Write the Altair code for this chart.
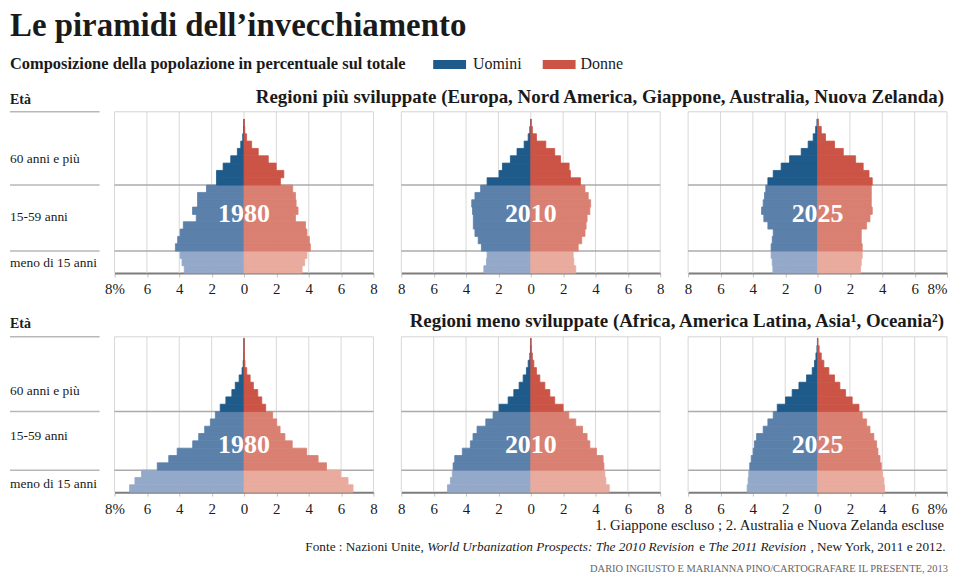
import altair as alt
import pandas as pd

FONT = "Liberation Serif"

TITLE = "Le piramidi dell’invecchiamento"
SUBTITLE = "Composizione della popolazione in percentuale sul totale"
SEXES = ["Uomini", "Donne"]
YEARS = ["1980", "2010", "2025"]
AGE_GROUPS = ["0-4", "5-9", "10-14", "15-19", "20-24", "25-29", "30-34", "35-39",
              "40-44", "45-49", "50-54", "55-59", "60-64", "65-69", "70-74", "75-79",
              "80-84", "85-89", "90-94", "95-99", "100+"]
REGION_TITLES = [
    "Regioni più sviluppate (Europa, Nord America, Giappone, Australia, Nuova Zelanda)",
    "Regioni meno sviluppate (Africa, America Latina, Asia¹, Oceania²)",
]
BAND_LABELS = ["meno di 15 anni", "15-59 anni", "60 anni e più"]
# age at which the 2nd and 3rd colour band start, as drawn in each row
BAND_START_AGES = [[15, 60], [15, 55]]
TICKS = [-8, -6, -4, -2, 0, 2, 4, 6, 8]
NOTE_1 = "1. Giappone escluso ; 2. Australia e Nuova Zelanda escluse"
NOTE_2 = [("Fonte : Nazioni Unite, ", False),
          ("World Urbanization Prospects: The 2010 Revision", True),
          (" e ", False),
          ("The 2011 Revision", True),
          (" , New York, 2011 e 2012.", False)]
CREDIT = "DARIO INGIUSTO E MARIANNA PINO/CARTOGRAFARE IL PRESENTE, 2013"

# % of total population, age groups from 0-4 (first) to 100+ (last)
DEV_1980_M = [3.69, 3.83, 3.95, 4.24, 4.10, 3.95, 3.75, 2.95, 3.18, 2.87, 2.87, 2.32, 1.70, 1.70, 1.29, 0.82, 0.41, 0.20, 0.08, 0.03, 0.01]
DEV_1980_F = [3.59, 3.75, 3.89, 4.10, 4.04, 3.89, 3.80, 3.18, 3.34, 3.22, 3.18, 3.01, 2.25, 2.46, 1.99, 1.50, 0.88, 0.47, 0.16, 0.05, 0.01]
DEV_2010_M = [2.90, 2.74, 2.70, 3.05, 3.25, 3.45, 3.55, 3.55, 3.60, 3.65, 3.45, 3.10, 2.70, 1.96, 1.75, 1.26, 0.85, 0.41, 0.16, 0.06, 0.01]
DEV_2010_F = [2.78, 2.66, 2.62, 2.93, 3.15, 3.35, 3.42, 3.48, 3.65, 3.70, 3.55, 3.35, 3.07, 2.45, 2.37, 1.84, 1.48, 0.93, 0.35, 0.10, 0.03]
DEV_2025_M = [2.76, 2.80, 2.87, 2.87, 2.80, 2.74, 3.07, 3.32, 3.46, 3.36, 3.28, 3.20, 3.07, 2.74, 2.25, 1.73, 1.01, 0.58, 0.27, 0.12, 0.04]
DEV_2025_F = [2.66, 2.70, 2.76, 2.76, 2.70, 2.70, 3.03, 3.24, 3.38, 3.32, 3.32, 3.32, 3.38, 3.18, 2.82, 2.35, 1.59, 1.05, 0.49, 0.23, 0.06]
LESS_1980_M = [7.07, 6.74, 6.33, 5.36, 4.65, 4.13, 3.17, 2.80, 2.43, 2.08, 1.77, 1.47, 1.12, 0.75, 0.54, 0.30, 0.12, 0.05, 0.01, 0.00, 0.00]
LESS_1980_F = [6.74, 6.43, 5.98, 5.10, 4.58, 3.87, 2.98, 2.53, 2.23, 2.02, 1.77, 1.34, 1.10, 0.85, 0.58, 0.38, 0.17, 0.06, 0.02, 0.01, 0.00]
LESS_2010_M = [5.15, 4.97, 4.85, 4.80, 4.70, 4.23, 3.73, 3.57, 3.32, 2.78, 2.33, 1.96, 1.40, 1.05, 0.72, 0.47, 0.27, 0.16, 0.06, 0.02, 0.00]
LESS_2010_F = [4.85, 4.64, 4.58, 4.52, 4.47, 4.06, 3.65, 3.48, 3.20, 2.78, 2.35, 2.00, 1.48, 1.18, 0.87, 0.56, 0.35, 0.19, 0.10, 0.04, 0.01]
LESS_2025_M = [4.35, 4.29, 4.25, 4.19, 4.10, 3.98, 3.90, 3.77, 3.36, 3.07, 2.74, 2.49, 1.98, 1.57, 1.15, 0.68, 0.33, 0.19, 0.10, 0.04, 0.01]
LESS_2025_F = [4.14, 4.10, 4.02, 3.94, 3.86, 3.73, 3.65, 3.48, 3.24, 3.03, 2.76, 2.56, 2.14, 1.73, 1.38, 1.05, 0.70, 0.39, 0.23, 0.10, 0.03]

SERIES = {
    (0, "1980"): (DEV_1980_M, DEV_1980_F),
    (0, "2010"): (DEV_2010_M, DEV_2010_F),
    (0, "2025"): (DEV_2025_M, DEV_2025_F),
    (1, "1980"): (LESS_1980_M, LESS_1980_F),
    (1, "2010"): (LESS_2010_M, LESS_2010_F),
    (1, "2025"): (LESS_2025_M, LESS_2025_F),
}

# ---------------- styling ----------------
COLORS = {"Uomini": ["#94a9c9", "#5b80aa", "#1e5a8a"],
          "Donne": ["#e8ab9d", "#d98072", "#cb5447"]}
CAT_DOMAIN = [f"{s}{b}" for s in SEXES for b in range(3)]
CAT_RANGE = [COLORS[s][b] for s in SEXES for b in range(3)]
cscale = alt.Scale(domain=CAT_DOMAIN, range=CAT_RANGE)

PANEL_W = 260
ROW_H = [162, 156]
Y_TOP = [22, 21.2]
YEAR_Y = [103, 109]
LABEL_Y = [[151.5, 106, 47], [148, 100, 54]]
TXT = "#1a1a1a"

rows = []
for (r, yr), (men, women) in SERIES.items():
    cuts = [a // 5 for a in BAND_START_AGES[r]]
    for sex, vals in zip(SEXES, (men, women)):
        for i, v in enumerate(vals):
            band = 0 if i < cuts[0] else (1 if i < cuts[1] else 2)
            rows.append({"row": r, "year": yr, "sex": sex, "age": AGE_GROUPS[i],
                         "i": i, "value": v, "cat": f"{sex}{band}"})
df = pd.DataFrame(rows)
df["x0"] = df.apply(lambda d: -d["value"] if d["sex"] == "Uomini" else 0.0, axis=1)
df["x1"] = df.apply(lambda d: 0.0 if d["sex"] == "Uomini" else d["value"], axis=1)
df["i1"] = df["i"] + 1

ONE = pd.DataFrame({"k": [0]})


def panel(r, k):
    yr = YEARS[k]
    d = df[(df.row == r) & (df.year == yr)]
    xs = alt.Scale(domain=[-8, 8], nice=False, zero=False)
    ys = alt.Scale(domain=[0, Y_TOP[r]], nice=False, zero=False)
    if k == 0:
        expr = "datum.value == -8 ? '8%' : '' + abs(datum.value)"
    elif k == 2:
        expr = "datum.value == 8 ? '8%' : '' + abs(datum.value)"
    else:
        expr = "'' + abs(datum.value)"
    kw = dict(values=TICKS, labelExpr=expr, labelFlush=False, grid=False, title=None,
              domainColor="#7d7d7d", domainWidth=2, tickColor="#c4c4c4", tickSize=4,
              labelFont=FONT, labelFontSize=15, labelColor=TXT, labelPadding=5,
              labelOverlap=False)
    if k == 2:
        kw["labelAlign"] = {"condition": {"test": "datum.value == 8", "value": "right"},
                            "value": "center"}
    ax = alt.Axis(**kw)
    cuts = [a // 5 for a in BAND_START_AGES[r]]

    grid = alt.Chart(pd.DataFrame({"t": TICKS})).mark_rule(
        color="#d8d8d8", strokeWidth=1).encode(x=alt.X("t:Q", scale=xs, axis=ax))
    hl = alt.Chart(pd.DataFrame({"b": cuts})).mark_rule(
        color="#ababab", strokeWidth=1.5).encode(y=alt.Y("b:Q", scale=ys, axis=None))
    top = alt.Chart(pd.DataFrame({"b": [Y_TOP[r]]})).mark_rule(
        color="#d4d4d4", strokeWidth=1).encode(y=alt.Y("b:Q", scale=ys, axis=None))
    bars = alt.Chart(d).mark_bar(strokeWidth=0.8).encode(
        x=alt.X("x0:Q", scale=xs, axis=ax), x2="x1:Q",
        y=alt.Y("i:Q", scale=ys, axis=None), y2="i1:Q",
        color=alt.Color("cat:N", scale=cscale, legend=None),
        stroke=alt.Stroke("cat:N", scale=cscale, legend=None))
    year = alt.Chart(ONE).mark_text(
        font=FONT, fontSize=26, fontWeight="bold", color="white",
        align="center", baseline="middle").encode(
        x=alt.value(PANEL_W / 2), y=alt.value(YEAR_Y[r]), text=alt.value(yr))
    return alt.layer(grid, hl, top, bars, year).properties(width=PANEL_W, height=ROW_H[r])


def label_col(r):
    ys = alt.Scale(domain=[0, Y_TOP[r]], nice=False, zero=False)
    cuts = [a // 5 for a in BAND_START_AGES[r]]
    sep = alt.Chart(pd.DataFrame({"b": cuts + [Y_TOP[r]]})).mark_rule(
        color="#b8b8b8", strokeWidth=1.5).encode(
        y=alt.Y("b:Q", scale=ys, axis=None), x=alt.value(2), x2=alt.value(92))
    texts = [alt.Chart(ONE).mark_text(font=FONT, fontSize=13.5, color=TXT, align="left",
                                      baseline="middle").encode(
        x=alt.value(2), y=alt.value(LABEL_Y[r][b]), text=alt.value(BAND_LABELS[b]))
        for b in range(3)]
    return alt.layer(sep, *texts).properties(width=79, height=ROW_H[r])


def row_chart(r):
    return alt.hconcat(label_col(r), panel(r, 0), panel(r, 1), panel(r, 2),
                       spacing=28, bounds="flush").resolve_scale(x="independent", y="independent")


def txt(s, x, y, size, bold=False, align="left", color=TXT, italic=False, baseline="middle"):
    kw = dict(font=FONT, fontSize=size, color=color, align=align, baseline=baseline)
    if bold:
        kw["fontWeight"] = "bold"
    if italic:
        kw["fontStyle"] = "italic"
    return alt.Chart(ONE).mark_text(**kw).encode(x=alt.value(x), y=alt.value(y), text=alt.value(s))


def sw(x, y, w, h, c):
    return alt.Chart(ONE).mark_rect(color=c).encode(
        x=alt.value(x), x2=alt.value(x + w), y=alt.value(y), y2=alt.value(y + h))


header = alt.layer(
    txt(TITLE, 2, 27, 33, bold=True, baseline="alphabetic"),
    txt(SUBTITLE, 2, 60, 16.5, bold=True, baseline="alphabetic"),
    sw(427, 51, 33, 9, COLORS["Uomini"][2]),
    txt(SEXES[0], 467, 55, 16),
    sw(537, 51, 33, 9, COLORS["Donne"][2]),
    txt(SEXES[1], 575, 55, 16),
    txt("Età", 2, 91, 14, bold=True),
    txt(REGION_TITLES[0], 940, 88, 19, bold=True, align="right"),
).properties(width=942, height=102)

header2 = alt.layer(
    txt("Età", 2, 27, 14, bold=True),
    txt(REGION_TITLES[1], 940, 24, 19, bold=True, align="right"),
).properties(width=942, height=39)

# approximate Times-style advance widths to chain the mixed roman/italic source line
_R = dict(zip("abcdefghijklmnopqrstuvwxyz", [444,500,444,500,444,333,500,500,278,278,500,278,778,500,500,500,500,333,389,278,500,500,722,500,500,444]))
_R.update(zip("ABCDEFGHIJKLMNOPQRSTUVWXYZ", [722,667,667,722,611,556,722,722,333,389,722,611,889,722,722,556,722,667,556,611,722,722,944,722,722,611]))
_I = dict(zip("abcdefghijklmnopqrstuvwxyz", [500,500,444,500,444,278,500,500,278,278,444,278,722,500,500,500,500,389,389,278,500,444,667,444,444,389]))
_I.update(zip("ABCDEFGHIJKLMNOPQRSTUVWXYZ", [611,611,667,722,611,611,722,722,333,444,667,556,833,667,722,611,722,611,500,556,722,611,833,611,556,556]))
for t in (_R, _I):
    t.update({" ": 250, ",": 250, ".": 250, ":": 278, ";": 278})
    t.update({d: 500 for d in "0123456789"})
_I[":"] = 333


def tw(s, italic, size):
    t = _I if italic else _R
    return sum(t.get(c, 500) for c in s) * size / 1000.0


FS2 = 13.3
RIGHT = 944
total = sum(tw(s, it, FS2) for s, it in NOTE_2)
x = RIGHT - total
note2_layers = []
for s, it in NOTE_2:
    lead = len(s) - len(s.lstrip(" "))
    note2_layers.append(txt(s.strip(" "), x + tw(" " * lead, it, FS2), 31, FS2, italic=it))
    x += tw(s, it, FS2)

footer = alt.layer(
    txt(NOTE_1, 940, 10, 14.8, align="right"),
    *note2_layers,
    txt(CREDIT, RIGHT, 53, 10.5, align="right", color="#666666"),
).properties(width=942, height=58)

chart = alt.vconcat(header, row_chart(0), header2, row_chart(1), footer,
                    spacing=0).properties(
    padding={"left": 0, "top": 0, "right": 0, "bottom": 0}
).configure_view(strokeOpacity=0)

chart.save("out.html", embed_options={"renderer": "svg", "actions": False})
